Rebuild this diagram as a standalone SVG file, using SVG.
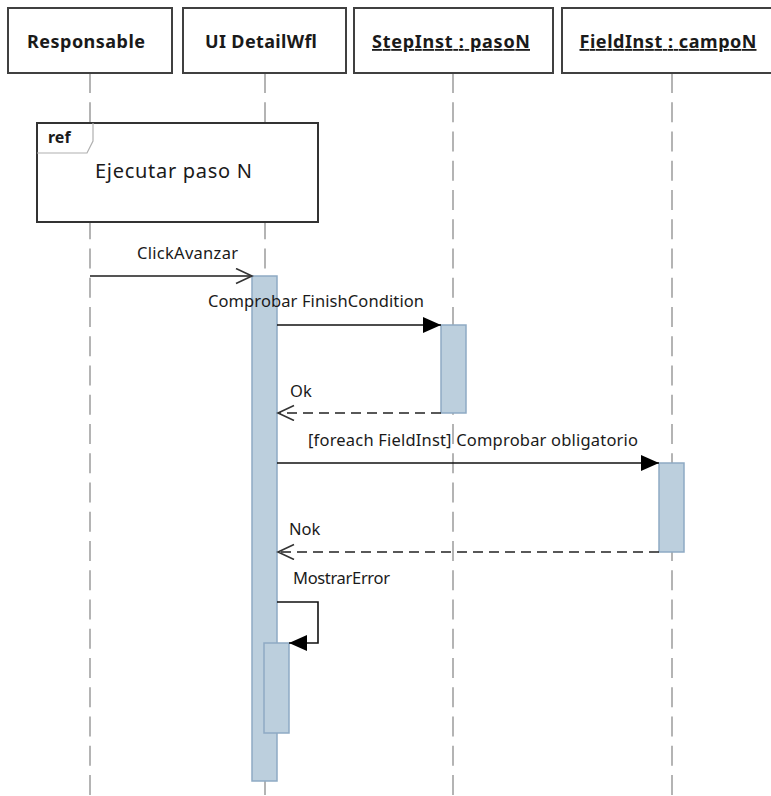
<svg xmlns="http://www.w3.org/2000/svg" width="771" height="796" viewBox="0 0 771 796">
  <style>
    .head { fill: #ffffff; stroke: #404040; stroke-width: 2; }
    .htext { font-family: "Noto Sans", "Open Sans", sans-serif; font-weight: bold; font-size: 18px; fill: #1a1a1a; text-anchor: middle; }
    .life { stroke: #b4b4b4; stroke-width: 2; stroke-dasharray: 20 9.25; fill: none; }
    .act { fill: #bccfdd; stroke: #8eaac4; stroke-width: 1.5; }
    .msg { stroke: #111111; stroke-width: 1.6; fill: none; }
    .ret { stroke: #222222; stroke-width: 1.6; stroke-dasharray: 10 6; fill: none; }
    .lbl { font-family: "Noto Sans", "Open Sans", sans-serif; font-size: 16.5px; fill: #1a1a1a; }
  </style>
  <defs>
    <marker id="filled" markerUnits="userSpaceOnUse" markerWidth="20" markerHeight="18" refX="18" refY="8" orient="auto">
      <path d="M0,0 L18,8 L0,16 Z" fill="#000000"/>
    </marker>
    <marker id="open" markerUnits="userSpaceOnUse" markerWidth="20" markerHeight="18" refX="17" refY="8" orient="auto">
      <path d="M1,0.5 L17,8 L1,15.5" fill="none" stroke="#333333" stroke-width="1.6"/>
    </marker>
  </defs>

  <rect width="771" height="796" fill="#ffffff"/>

  <!-- lifelines -->
  <g id="lifelines">
    <line class="life" x1="90" y1="73" x2="90" y2="796"/>
    <line class="life" x1="265" y1="73" x2="265" y2="796"/>
    <line class="life" x1="453" y1="73" x2="453" y2="796"/>
    <line class="life" x1="672" y1="73" x2="672" y2="796"/>
  </g>

  <!-- participant heads -->
  <g id="responsable">
    <rect class="head" x="8" y="8" width="164" height="65"/>
    <text class="htext" x="86" y="48" textLength="118">Responsable</text>
  </g>
  <g id="ui-detailwfl">
    <rect class="head" x="183" y="8" width="163" height="65"/>
    <text class="htext" x="261" y="48" textLength="112">UI DetailWfl</text>
  </g>
  <g id="stepinst">
    <rect class="head" x="354" y="8" width="199" height="65"/>
    <text class="htext" x="451" y="48" textLength="158" text-decoration="underline">StepInst : pasoN</text>
  </g>
  <g id="fieldinst">
    <rect class="head" x="562" y="8" width="215" height="65"/>
    <text class="htext" x="668" y="48" textLength="177" text-decoration="underline">FieldInst : campoN</text>
  </g>

  <!-- interaction use -->
  <g id="ref-ejecutar">
    <rect x="37" y="123" width="281" height="99" fill="#ffffff" stroke="#333333" stroke-width="2"/>
    <path d="M37,153 H87 L93,141 V123" fill="none" stroke="#b0b0b0" stroke-width="1.2"/>
    <text x="48" y="143" font-family="Noto Sans, Open Sans, sans-serif" font-weight="bold" font-size="16" fill="#1a1a1a">ref</text>
    <text x="95" y="178" font-family="Noto Sans, Open Sans, sans-serif" font-size="20" fill="#1a1a1a" textLength="157">Ejecutar paso N</text>
  </g>

  <!-- activations -->
  <g id="act-ui">
    <rect class="act" x="252" y="276" width="25" height="505"/>
  </g>
  <g id="act-step">
    <rect class="act" x="441" y="325" width="25" height="88"/>
  </g>
  <g id="act-field">
    <rect class="act" x="659" y="463" width="25" height="89"/>
  </g>
  <g id="act-ui-nested">
    <rect class="act" x="264" y="643" width="25" height="90"/>
  </g>

  <!-- messages -->
  <g id="connectors">
    <line x1="90" y1="276" x2="252" y2="276" stroke="#555555" stroke-width="2" marker-end="url(#open)"/>
    <line class="msg" x1="277" y1="325" x2="441" y2="325" marker-end="url(#filled)"/>
    <line class="ret" x1="441" y1="413" x2="278" y2="413" marker-end="url(#open)"/>
    <line class="msg" x1="277" y1="463" x2="659" y2="463" marker-end="url(#filled)"/>
    <line class="ret" x1="659" y1="552" x2="278" y2="552" marker-end="url(#open)"/>
    <path class="msg" d="M277,602 H318 V643 H289" marker-end="url(#filled)"/>
  </g>

  <!-- message labels -->
  <g id="labels">
    <text class="lbl" x="137" y="259" textLength="101">ClickAvanzar</text>
    <text class="lbl" x="208" y="307" textLength="216">Comprobar FinishCondition</text>
    <text class="lbl" x="290" y="397">Ok</text>
    <text class="lbl" x="308" y="446" textLength="330">[foreach FieldInst] Comprobar obligatorio</text>
    <text class="lbl" x="289" y="535">Nok</text>
    <text class="lbl" x="293" y="584" textLength="97">MostrarError</text>
  </g>
</svg>
